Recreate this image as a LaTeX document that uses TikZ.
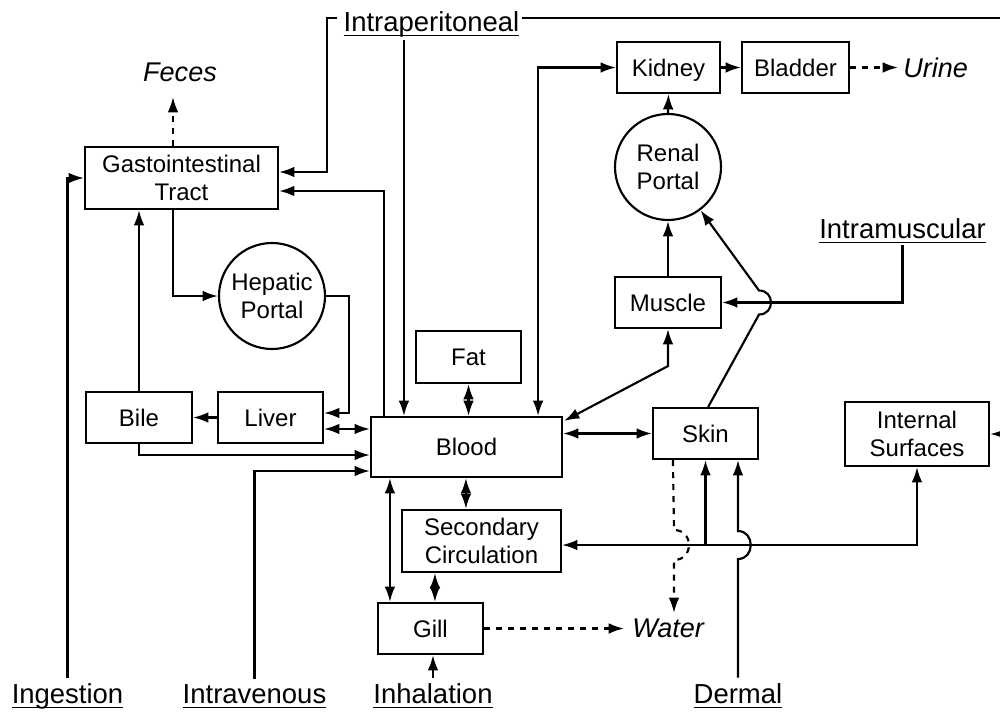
\documentclass[tikz,border=0pt]{standalone}
\usepackage{fontspec}
\setmainfont{Liberation Sans}
\usetikzlibrary{arrows.meta}
\newsavebox\ulb
\newcommand{\undl}[1]{\sbox\ulb{#1}\rlap{\rule[-4pt]{\wd\ulb}{1.2pt}}\usebox\ulb}
\tikzset{hd/.tip={Latex[length=11.5pt,width=8pt]}}
\begin{document}
\begin{tikzpicture}[x=0.75pt,y=-0.75pt,
  box/.style={draw, line width=1.6pt, inner sep=0pt, align=center, font=\fontsize{18}{20.5}\selectfont},
  circ/.style={draw, circle, line width=1.6pt, minimum size=79.5pt, inner sep=0pt, align=center, font=\fontsize{18}{20.5}\selectfont},
  lab/.style={anchor=base, inner sep=0pt, font=\fontsize{20.6}{24}\selectfont},
  outp/.style={inner sep=0pt, font=\fontsize{20.3}{24}\selectfont\itshape},
  conn/.style={line width=1.6pt},
  arr/.style={conn, -hd},
  darr/.style={conn, hd-hd},
  dsh/.style={conn, dash pattern=on 4.5pt off 4.5pt, -hd}
]
\useasboundingbox (0,0) rectangle (1000,711);

% boxes
\node[box, minimum width=144.75pt, minimum height=46.5pt] (gi) at (181.5,178) {Gastointestinal\\Tract};
\node[box, minimum width=77.25pt, minimum height=38.25pt, text depth=0pt] (kidney) at (668.5,67.5) {Kidney};
\node[box, minimum width=80.25pt, minimum height=38.25pt] (bladder) at (795.5,67.5) {Bladder};
\node[box, minimum width=79.5pt, minimum height=38.25pt] (muscle) at (668,302.5) {Muscle};
\node[box, minimum width=78.75pt, minimum height=39pt] (fat) at (468.5,357) {Fat};
\node[box, minimum width=143.25pt, minimum height=45pt] (blood) at (466.5,447) {Blood};
\node[box, minimum width=78.75pt, minimum height=38.25pt] (skin) at (705.5,433.5) {Skin};
\node[box, minimum width=108pt, minimum height=48pt] (is) at (917,434) {Internal\\Surfaces};
\node[box, minimum width=119.25pt, minimum height=46.5pt] (sc) at (481.5,541) {Secondary\\Circulation};
\node[box, minimum width=78.75pt, minimum height=38.25pt] (gill) at (430.5,628.5) {Gill};
\node[box, minimum width=79.5pt, minimum height=38.25pt] (bile) at (139,417.5) {Bile};
\node[box, minimum width=78.75pt, minimum height=38.25pt] (liver) at (270.5,417.5) {Liver};
\node[circ] (rp) at (668,167) {Renal\\Portal};
\node[circ] (hp) at (272,296) {Hepatic\\Portal};

% labels
\node[lab] (ip) at (431.5,31) {\undl{Intraperitoneal}};
\node[lab] (im) at (902.5,238) {\undl{Intramuscular}};
\node[lab] (ing) at (67.5,703) {\undl{Ingestion}};
\node[lab] (iv) at (254.5,703) {\undl{Intravenous}};
\node[lab] (inh) at (433,703) {\undl{Inhalation}};
\node[lab] (derm) at (738,703) {\undl{Dermal}};
\node[outp, anchor=base] (feces) at (180,81) {Feces};
\node[outp, anchor=base west] (urine) at (903,77) {Urine};
\node[outp, anchor=base west] (water) at (632,637) {Water};

% free ends and bends
\coordinate (ipa) at (327,18);
\coordinate (ipR) at (1000,18);
\coordinate (isR) at (1000,434);
\coordinate (fc) at (173,97);
\coordinate (br) at (705.5,545);
\coordinate (wt) at (674,613);
\coordinate (bt) at ([xshift=25.5pt]blood.north west);
\coordinate (ipd) at (bt |- ip.south);

% Intraperitoneal
\draw[arr] ([shift={(-4.5pt,9.75pt)}]ip.base west) -- (ipa) |- ([yshift=4.5pt]gi.east);
\draw[conn] ([shift={(1.5pt,9.75pt)}]ip.base east) -- (ipR);
\draw[arr] ([yshift=-2.5pt]ipd) -- (bt);

% GI related
\draw[arr] ([yshift=4pt]ing.north) |- (gi.west);
\draw[dsh] ([xshift=-6.375pt]gi.north) -- (fc);
\draw[arr] ([xshift=-6.375pt]gi.south) |- (hp.west);
\draw[arr] ([xshift=10.5pt]blood.north west) |- ([yshift=-9.75pt]gi.east);
\draw[arr] (hp.east) -| ([xshift=18.75pt,yshift=3.4pt]liver.east) -- ([yshift=3.4pt]liver.east);
\draw[arr] (liver.west) -- (bile.east);
\draw[arr] (bile.north) -- (bile.north |- gi.south);
\draw[arr] (bile.south) |- ([yshift=-6pt]blood.west);
\draw[darr] ([yshift=-8.6pt]liver.east) -- ([yshift=-8.6pt]liver.east -| blood.west);
\draw[arr] ([yshift=4pt]iv.north) |- ([yshift=-18pt]blood.west);

% Blood to others
\draw[darr] (fat.south) -- (fat.south |- blood.north);
\draw[darr] ([xshift=-18.75pt]blood.north east) |- (kidney.west);
\draw[arr] (kidney.east) -- (bladder.west);
\draw[dsh] (bladder.east) -- ++(48,0);
\draw[arr] (rp.north) -- (kidney.south);
\draw[arr] (muscle.north) -- (rp.south);
\draw[darr] ([shift={(0.75pt,-3.75pt)}]blood.north east) -- ([yshift=-27.75pt]muscle.south) -- (muscle.south);
\draw[arr] ([yshift=-5.25pt]im.base) |- (muscle.east);
\draw[arr] ([xshift=2pt]skin.north) -- (759,314.5) .. controls (775,314.5) and (775,290.5) .. (759,290.5) -- (rp.-53);
\draw[darr] (skin.west) -- (skin.west -| blood.east);

% lower part
\draw[darr] ([xshift=72pt]blood.south west) -- ([xshift=48.75pt]sc.north west);
\draw[darr] ([xshift=15pt]blood.south west) -- ([xshift=9.75pt]gill.north west);
\draw[darr] ([xshift=25.5pt]sc.south west) -- ([xshift=43.5pt]gill.north west);
\draw[arr] ([yshift=4pt]inh.north) -- (inh.north |- gill.south);
\draw[dsh] (gill.east) -- ++(140,0);
\draw[darr] ([yshift=-3pt]sc.east) -| (is.south);
\draw[arr] (br) -- (br |- skin.south);
\draw[dsh] ([xshift=15.75pt]skin.south west) -- (674,530) .. controls (694,530) and (694,560) .. (674,560) -- (wt);
\draw[arr] ([yshift=4pt]derm.north) -- (738,559) .. controls (755,559) and (755,531) .. (738,531) -- (skin.south -| derm.north);
\draw[arr] (isR) -- (is.east);
\end{tikzpicture}
\end{document}
